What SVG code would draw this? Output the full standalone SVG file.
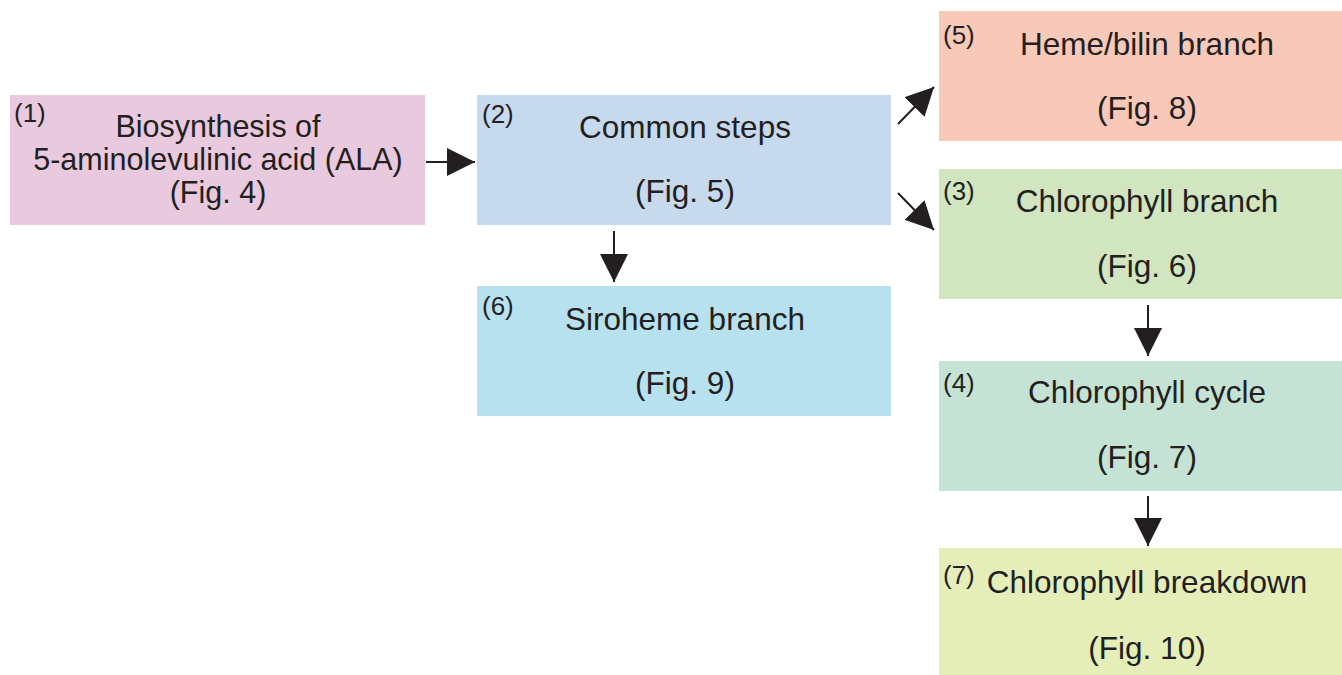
<svg xmlns="http://www.w3.org/2000/svg" width="1342" height="675" viewBox="0 0 1342 675">
<style>
.t{font-family:"Liberation Sans",Arial,sans-serif;font-size:31.5px;fill:#231f20;text-anchor:middle}
.t1{font-size:30.5px}
.n{font-family:"Liberation Sans",Arial,sans-serif;font-size:26px;fill:#231f20}
.c{stroke:#231f20;stroke-width:2;fill:none}
</style>
<defs>
<marker id="ah" markerWidth="30" markerHeight="30" refX="28" refY="14" orient="auto" markerUnits="userSpaceOnUse">
<path d="M0,0 L28,14 L0,28 Z" fill="#231f20"/>
</marker>
</defs>
<rect width="1342" height="675" fill="#fff"/>
<g id="node1">
<rect x="10" y="95" width="415" height="130" fill="#e8c9dd"/>
<text class="n" x="14" y="122">(1)</text>
<text class="t t1" x="218" y="137">Biosynthesis of</text>
<text class="t t1" x="218" y="170">5-aminolevulinic acid (ALA)</text>
<text class="t t1" x="218" y="203">(Fig. 4)</text>
</g>
<g id="node2">
<rect x="477" y="95" width="414" height="130" fill="#c6d9ed"/>
<text class="n" x="482" y="123">(2)</text>
<text class="t" x="685" y="138">Common steps</text>
<text class="t" x="685" y="202">(Fig. 5)</text>
</g>
<g id="node6">
<rect x="477" y="286" width="414" height="130" fill="#b8e1ef"/>
<text class="n" x="482" y="315">(6)</text>
<text class="t" x="685" y="330">Siroheme branch</text>
<text class="t" x="685" y="394">(Fig. 9)</text>
</g>
<g id="node5">
<rect x="939" y="11" width="403" height="130" fill="#f8c8b8"/>
<text class="n" x="943" y="44">(5)</text>
<text class="t" x="1147" y="55">Heme/bilin branch</text>
<text class="t" x="1147" y="119">(Fig. 8)</text>
</g>
<g id="node3">
<rect x="939" y="169" width="403" height="130" fill="#d1e5c1"/>
<text class="n" x="943" y="200">(3)</text>
<text class="t" x="1147" y="212">Chlorophyll branch</text>
<text class="t" x="1147" y="277">(Fig. 6)</text>
</g>
<g id="node4">
<rect x="939" y="361" width="403" height="130" fill="#c5e3d5"/>
<text class="n" x="943" y="392">(4)</text>
<text class="t" x="1147" y="403">Chlorophyll cycle</text>
<text class="t" x="1147" y="468">(Fig. 7)</text>
</g>
<g id="node7">
<rect x="939" y="548" width="403" height="127" fill="#e5edb8"/>
<text class="n" x="943" y="584">(7)</text>
<text class="t" x="1147" y="593">Chlorophyll breakdown</text>
<text class="t" x="1147" y="659">(Fig. 10)</text>
</g>
<g id="connectors">
<line class="c" x1="426" y1="162" x2="475" y2="162" marker-end="url(#ah)"/>
<line class="c" x1="614" y1="231" x2="614" y2="282" marker-end="url(#ah)"/>
<line class="c" x1="898" y1="124" x2="934" y2="87" marker-end="url(#ah)"/>
<line class="c" x1="898" y1="193" x2="934" y2="230" marker-end="url(#ah)"/>
<line class="c" x1="1148" y1="305" x2="1148" y2="356" marker-end="url(#ah)"/>
<line class="c" x1="1148" y1="496" x2="1148" y2="546" marker-end="url(#ah)"/>
</g>
</svg>
